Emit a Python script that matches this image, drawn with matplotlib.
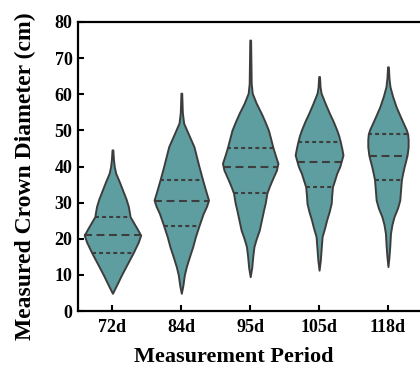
import numpy as np
import matplotlib
matplotlib.use('Agg')
import matplotlib.pyplot as plt

# categories on the x axis
periods = ['72d', '84d', '95d', '105d', '118d']

# violin outlines: height (cm) and relative density
h_72 = [4.9, 6, 7.7, 10, 12.3, 16.1, 19, 21, 23, 26.1, 28.9, 31, 33.5, 36, 38.1, 40, 42, 44.6]
d_72 = [0, 2, 5, 9, 13.3, 20.5, 25.5, 28, 24, 17.5, 15.8, 13.5, 10, 6.5, 3.3, 1.8, 1.0, 0.4]

h_84 = [4.9, 7, 10, 12.3, 15, 17.8, 20.6, 23.6, 27, 29, 30.7, 33, 36.4, 40, 45.5, 49, 52, 55, 60.3]
d_84 = [0, 1.5, 3, 5, 8, 11.3, 14, 17.5, 21.7, 25, 27, 24.5, 21, 17.5, 12.5, 7, 2.3, 1.0, 0.4]

h_95 = [9.5, 12, 15, 17.8, 20, 22.4, 25, 28, 30, 32.6, 34.5, 36.3, 39, 40.9, 43, 45.3, 48, 50.1, 52.5, 54.7, 57.5, 60.3, 63, 75]
d_95 = [0, 1.5, 2.5, 3.7, 6, 9, 11, 13.3, 15, 16.5, 19, 21.7, 26, 27.5, 25, 22.5, 20, 18, 14.5, 11, 6, 2, 1.0, 0.4]

h_105 = [11.3, 14, 17, 20.6, 23, 25.2, 27.5, 29.8, 32, 34.4, 36.3, 38.1, 40, 41.5, 43.2, 45, 46.9, 48.5, 50.1, 52.5, 54.7, 57.5, 60.3, 62, 64.9]
d_105 = [0, 1.2, 2, 3, 5.5, 7.5, 10, 12, 12.5, 13.3, 15.5, 17.5, 20.5, 22, 23.7, 22.5, 21, 19.5, 17.5, 14, 10.3, 6, 2, 1.0, 0.4]

h_118 = [12.3, 15, 18, 21.5, 24, 26.1, 28.5, 30.7, 33.5, 36.3, 38, 39.9, 41.5, 43.2, 45.5, 47.5, 49, 50.3, 51.5, 54, 56.6, 59.5, 62.1, 64.5, 67.6]
d_118 = [0, 1.0, 1.8, 2.5, 4, 6, 9.5, 11.7, 12.5, 13.3, 14.5, 16, 17.5, 19, 20, 20, 19.5, 18, 16, 12, 8, 4.5, 2, 1.0, 0.4]

# quartiles (q1, median, q3)
q1 = [16.1, 23.5, 32.6, 34.4, 36.3]
medians = [21.0, 30.5, 40.0, 41.3, 43.0]
q3 = [26.0, 36.3, 45.2, 46.8, 49.0]

heights = [h_72, h_84, h_95, h_105, h_118]
dens = [d_72, d_84, d_95, d_105, d_118]

fill_c = '#5f9ea0'
edge_c = '#3d3d3d'
plt.rcParams['font.family'] = 'Liberation Serif'
plt.rcParams['font.weight'] = 'bold'

fig = plt.figure(figsize=(4.2, 3.67), dpi=100)
ax = fig.add_axes([78 / 420, 56 / 367, 344.4 / 420, 289 / 367])

# area-style scaling: widest violin gets full width
gmax = max(max(d) for d in dens)
full_w = 0.82
widths = [full_w * max(d) / gmax for d in dens]

vpstats = []
for i in range(len(periods)):
    vpstats.append({
        'coords': np.array(heights[i]),
        'vals': np.array(dens[i]),
        'mean': medians[i], 'median': medians[i],
        'min': heights[i][0], 'max': heights[i][-1],
    })

parts = ax.violin(vpstats, positions=range(len(periods)), widths=widths,
                  showmeans=False, showextrema=False, showmedians=False)
for b in parts['bodies']:
    b.set_facecolor(fill_c)
    b.set_edgecolor(edge_c)
    b.set_linewidth(1.4)
    b.set_alpha(1)

# quartile lines clipped to the violin outline
for i in range(len(periods)):
    scale = 0.5 * widths[i] / max(dens[i])
    for val, ls in [(q1[i], (0, (1.9, 1.5))), (q3[i], (0, (1.9, 1.5))),
                    (medians[i], (0, (3.8, 2.2)))]:
        hw = np.interp(val, heights[i], dens[i]) * scale
        ax.plot([i - hw, i + hw], [val, val], color=edge_c, lw=1.5, linestyle=ls)

ax.set_xlim(-0.5, 4.5)
ax.set_ylim(0, 80)
ax.set_xticks(range(len(periods)))
ax.set_xticklabels(periods)
ax.set_yticks(range(0, 81, 10))
ax.tick_params(direction='in', length=4, width=1.5, labelsize=13, pad=4)
ax.tick_params(axis='x', pad=6)
for s in ax.spines.values():
    s.set_linewidth(1.6)

ax.set_xlabel('Measurement Period', fontsize=16, fontweight='bold')
ax.set_ylabel('Measured Crown Diameter (cm)', fontsize=17, fontweight='bold')
ax.xaxis.set_label_coords(0.452, -0.125)
ax.yaxis.set_label_coords(-0.122, 0.465)

fig.savefig('out.png', dpi=100)
